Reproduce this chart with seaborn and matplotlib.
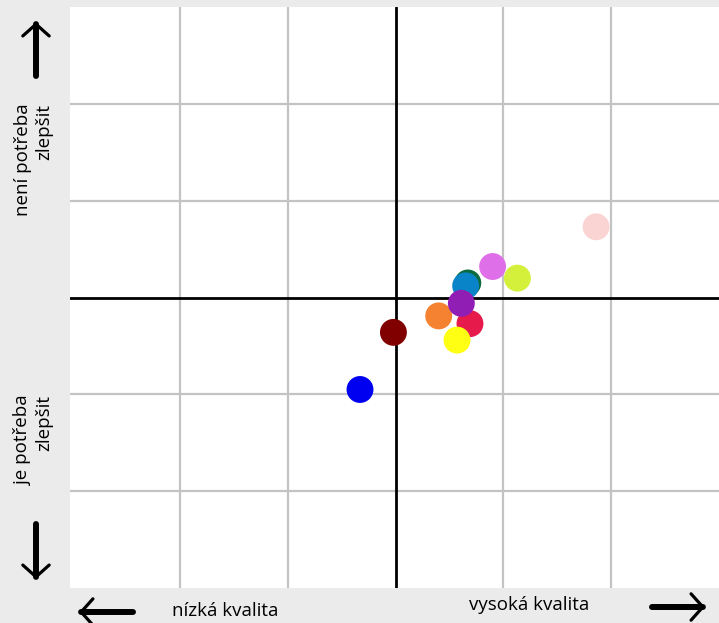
import matplotlib
matplotlib.use("Agg")
import matplotlib.pyplot as plt
import seaborn as sns
import pandas as pd

# quality (x) vs. need to improve (y), one dot per item
items = ["A", "B", "C", "D", "E", "F", "G", "H", "I", "J", "K"]
kvalita = [1.86, 0.90, 1.13, -0.02, -0.33, 0.40, 0.67, 0.65, 0.69, 0.57, 0.61]
potreba = [0.73, 0.32, 0.20, -0.36, -0.95, -0.19, 0.15, 0.12, -0.27, -0.44, -0.06]
barvy = ["#fad4d3", "#de6fe8", "#d4f03a", "#800000", "#0000f0", "#f58231",
         "#0b6a3e", "#0a84c8", "#e61a4b", "#ffff14", "#911eb4"]

df = pd.DataFrame({"item": items, "kvalita": kvalita, "potreba": potreba})

sns.set_style("white")
plt.rcParams["font.family"] = ["Open Sans", "DejaVu Sans"]
plt.rcParams["text.color"] = "black"

fig = plt.figure(figsize=(7.19, 6.23), dpi=100, facecolor="#ebebeb")
ax = fig.add_axes([70 / 719, 35 / 623, 649 / 719, 581 / 623])
ax.set_facecolor("white")

ax.set_xlim(-3.02, 3.0)
ax.set_ylim(-3.0, 3.0)
for v in [-2, -1, 1, 2]:
    ax.axvline(v, color="#c3c3c3", lw=1.6, zorder=0)
    ax.axhline(v, color="#c3c3c3", lw=1.6, zorder=0)
ax.axvline(0, color="black", lw=2, zorder=1)
ax.axhline(0, color="black", lw=2, zorder=1)

sns.scatterplot(data=df, x="kvalita", y="potreba", hue="item", palette=barvy,
                s=375, edgecolor="none", legend=False, ax=ax, zorder=3)

ax.set_xticks([])
ax.set_yticks([])
ax.set_xlabel("")
ax.set_ylabel("")
for sp in ax.spines.values():
    sp.set_visible(False)

# axis captions
fig.text(34 / 719, 1 - 160 / 623, "není potřeba\nzlepšit", rotation=90,
         ha="center", va="center", multialignment="right", fontsize=13.5,
         linespacing=1.25)
fig.text(34 / 719, 1 - 440 / 623, "je potřeba\nzlepšit", rotation=90,
         ha="center", va="center", multialignment="right", fontsize=13.5,
         linespacing=1.25)
fig.text(225 / 719, 1 - 611 / 623, "nízká kvalita", ha="center", va="center",
         fontsize=13.5)
fig.text(529 / 719, 1 - 605 / 623, "vysoká kvalita", ha="center", va="center",
         fontsize=13.5)


# arrows: thick shaft plus thinner open chevron head
def sipka(tip, tail):
    tip = (tip[0], 623 - tip[1])
    tail = (tail[0], 623 - tail[1])
    ax.annotate("", xy=tip, xytext=tail, xycoords="figure pixels",
                textcoords="figure pixels", annotation_clip=False,
                arrowprops=dict(arrowstyle="-", color="black", lw=4.3,
                                shrinkA=0, shrinkB=1.5))
    ax.annotate("", xy=tip, xytext=tail, xycoords="figure pixels",
                textcoords="figure pixels", annotation_clip=False,
                arrowprops=dict(arrowstyle="->,head_length=0.85,head_width=0.95",
                                color="black", lw=2.3, shrinkA=0, shrinkB=0))


sipka((36, 22), (36, 76))
sipka((36, 579), (36, 524))
sipka((79, 612), (133, 612))
sipka((705, 607), (652, 607))

fig.savefig("out.png", dpi=100, facecolor=fig.get_facecolor())
